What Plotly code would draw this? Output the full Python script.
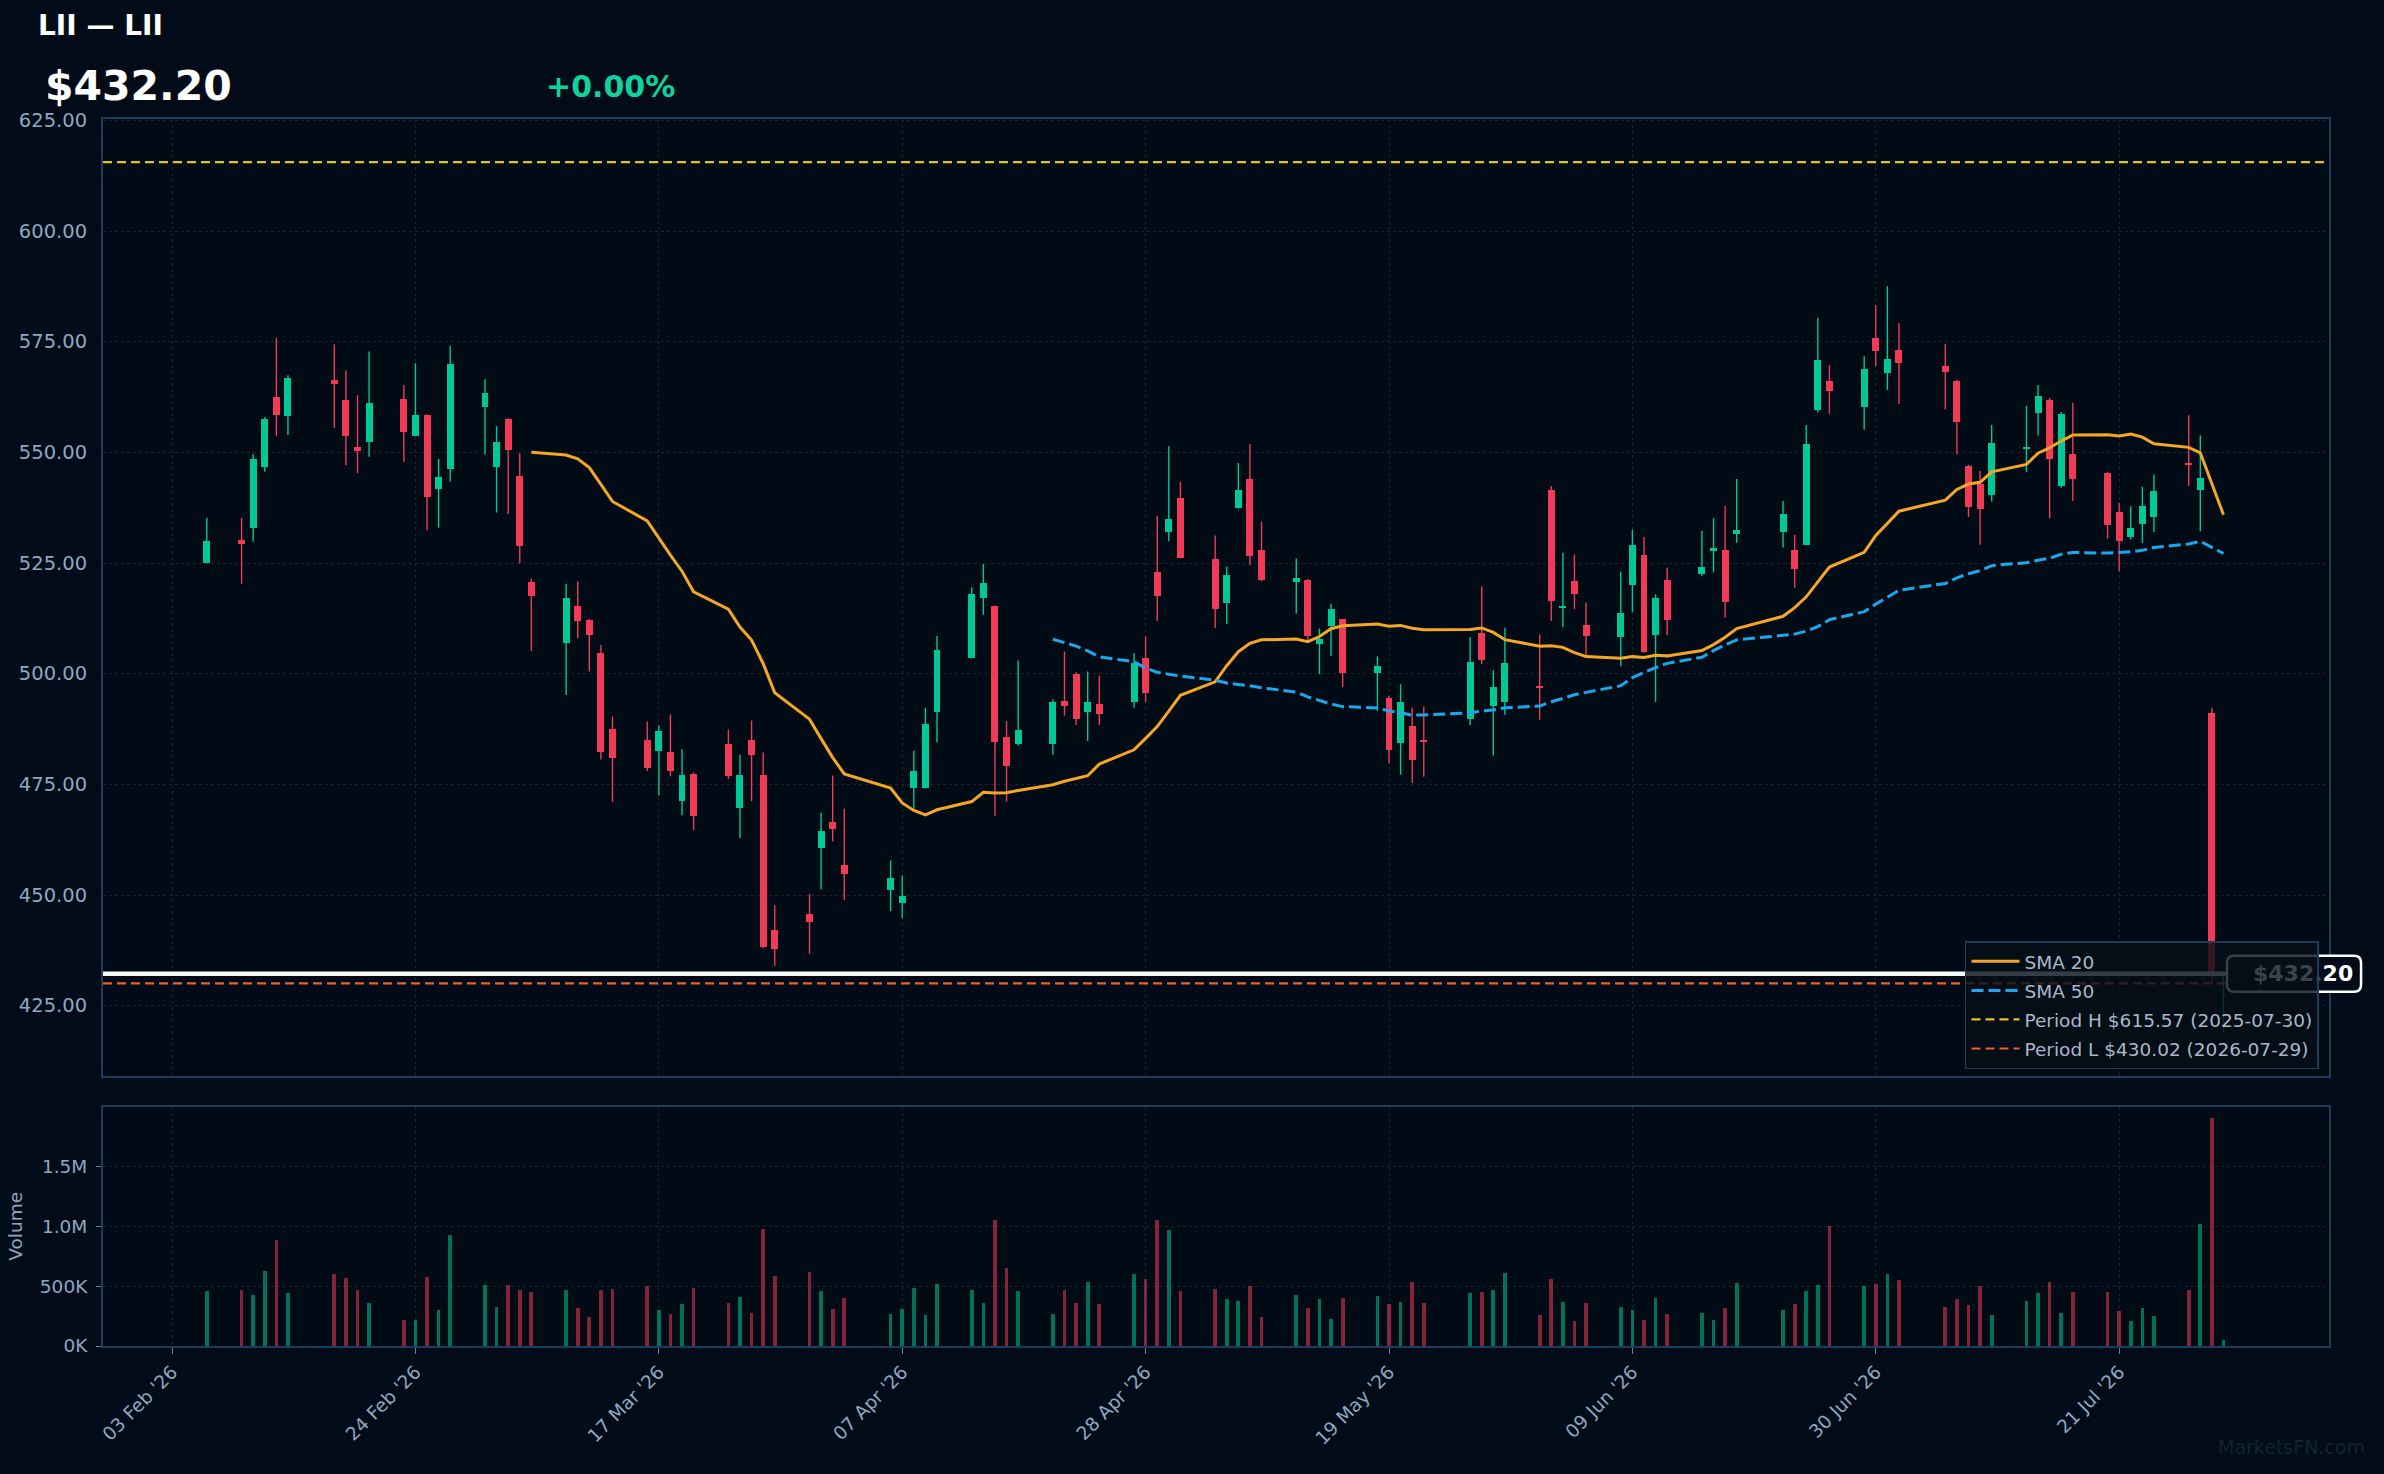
import plotly.graph_objects as go
import pandas as pd

# ---------------- data ----------------
ticker = "LII"
dates = [
    "2026-02-06", "2026-02-09", "2026-02-10", "2026-02-11", "2026-02-12", "2026-02-13",
    "2026-02-17", "2026-02-18", "2026-02-19", "2026-02-20", "2026-02-23", "2026-02-24",
    "2026-02-25", "2026-02-26", "2026-02-27",
    "2026-03-02", "2026-03-03", "2026-03-04", "2026-03-05", "2026-03-06", "2026-03-09",
    "2026-03-10", "2026-03-11", "2026-03-12", "2026-03-13", "2026-03-16", "2026-03-17",
    "2026-03-18", "2026-03-19", "2026-03-20", "2026-03-23", "2026-03-24", "2026-03-25",
    "2026-03-26", "2026-03-27", "2026-03-30", "2026-03-31",
    "2026-04-01", "2026-04-02", "2026-04-06", "2026-04-07", "2026-04-08", "2026-04-09",
    "2026-04-10", "2026-04-13", "2026-04-14", "2026-04-15", "2026-04-16", "2026-04-17",
    "2026-04-20", "2026-04-21", "2026-04-22", "2026-04-23", "2026-04-24", "2026-04-27",
    "2026-04-28", "2026-04-29", "2026-04-30",
    "2026-05-01", "2026-05-04", "2026-05-05", "2026-05-06", "2026-05-07", "2026-05-08",
    "2026-05-11", "2026-05-12", "2026-05-13", "2026-05-14", "2026-05-15", "2026-05-18",
    "2026-05-19", "2026-05-20", "2026-05-21", "2026-05-22", "2026-05-26", "2026-05-27",
    "2026-05-28", "2026-05-29",
    "2026-06-01", "2026-06-02", "2026-06-03", "2026-06-04", "2026-06-05", "2026-06-08",
    "2026-06-09", "2026-06-10", "2026-06-11", "2026-06-12", "2026-06-15", "2026-06-16",
    "2026-06-17", "2026-06-18", "2026-06-22", "2026-06-23", "2026-06-24", "2026-06-25",
    "2026-06-26", "2026-06-29", "2026-06-30",
    "2026-07-01", "2026-07-02", "2026-07-06", "2026-07-07", "2026-07-08", "2026-07-09",
    "2026-07-10", "2026-07-13", "2026-07-14", "2026-07-15", "2026-07-16", "2026-07-17",
    "2026-07-20", "2026-07-21", "2026-07-22", "2026-07-23", "2026-07-24", "2026-07-27",
    "2026-07-28", "2026-07-29", "2026-07-30",
]
opens = [
    525.0, 530.3, 533.0, 546.8, 562.5, 558.2, 566.3, 561.8, 551.1, 552.4, 562.0, 553.8,
    558.4, 541.8, 546.3,
    560.3, 546.8, 557.5, 544.7, 520.6, 506.9, 515.4, 512.2, 504.7, 487.6, 485.1, 482.5,
    482.4, 471.2, 477.4, 484.2, 469.6, 485.1, 477.0, 442.0, 445.6, 460.6,
    466.4, 456.7, 451.1, 448.3, 474.1, 474.1, 491.3, 503.5, 517.1, 515.2, 485.8, 484.2,
    484.2, 493.9, 500.0, 491.4, 493.2, 493.6, 503.6, 523.0, 531.9,
    539.7, 525.8, 515.9, 537.5, 544.0, 528.0, 520.6, 521.2, 506.7, 510.7, 512.3, 500.2,
    494.6, 484.4, 488.1, 484.9, 489.8, 509.3, 492.6, 493.5,
    497.0, 541.5, 515.0, 520.9, 511.0, 508.3, 520.0, 526.9, 508.7, 521.2, 522.6, 527.6,
    528.0, 531.5, 532.1, 527.9, 529.0, 559.6, 566.1, 560.3, 575.9,
    568.0, 573.1, 569.4, 566.1, 547.0, 542.9, 540.3, 550.9, 558.8, 561.8, 542.4, 549.6,
    545.4, 536.6, 530.8, 533.9, 535.5, 547.5, 541.5, 491.1, 432.0,
]
highs = [
    535.2, 535.2, 549.6, 558.0, 575.8, 567.4, 574.4, 568.5, 562.9, 572.8, 565.2, 570.1,
    558.6, 548.5, 574.0,
    566.5, 555.9, 557.7, 549.8, 521.5, 520.3, 520.8, 512.4, 506.5, 490.3, 489.2, 488.3,
    490.8, 482.9, 477.7, 487.4, 481.7, 489.4, 482.2, 447.7, 450.2, 468.6,
    477.0, 469.5, 457.8, 454.4, 482.6, 492.3, 508.5, 519.5, 524.8, 515.4, 489.3, 503.0,
    494.2, 505.0, 500.3, 500.5, 499.6, 504.6, 508.4, 535.7, 551.4,
    543.3, 531.2, 524.2, 547.6, 551.9, 534.3, 526.0, 521.4, 510.2, 515.8, 512.3, 503.9,
    495.0, 497.6, 492.3, 492.6, 508.2, 519.7, 500.8, 510.4,
    508.9, 542.4, 527.3, 526.9, 516.1, 523.0, 532.5, 530.9, 517.9, 523.9, 532.3, 535.1,
    537.9, 544.0, 539.0, 531.4, 556.2, 580.4, 569.7, 571.7, 583.3,
    587.5, 579.2, 574.5, 566.4, 547.2, 545.8, 556.2, 560.5, 565.2, 562.3, 559.1, 561.2,
    545.6, 538.6, 537.8, 542.2, 545.0, 558.4, 553.8, 492.3, 432.6,
]
lows = [
    525.0, 520.3, 529.8, 545.6, 553.7, 553.9, 555.5, 547.1, 545.3, 549.0, 547.9, 553.8,
    532.4, 533.0, 543.4,
    549.5, 536.4, 536.0, 524.9, 505.1, 495.2, 508.0, 500.5, 480.6, 471.0, 478.0, 472.5,
    476.8, 468.0, 464.7, 476.2, 462.9, 471.2, 438.0, 434.0, 436.7, 451.3,
    462.1, 448.9, 446.4, 444.8, 469.5, 474.1, 484.5, 503.5, 513.3, 467.9, 471.1, 483.7,
    481.7, 490.5, 488.4, 484.8, 488.4, 492.3, 493.6, 511.9, 529.9,
    526.1, 510.3, 511.2, 537.3, 524.5, 520.9, 513.6, 507.0, 499.9, 504.0, 497.0, 491.6,
    479.7, 477.2, 475.3, 476.7, 488.4, 502.2, 481.5, 490.7,
    489.6, 511.9, 510.5, 514.6, 504.2, 501.7, 513.9, 504.7, 493.6, 508.7, 522.0, 522.9,
    512.7, 529.6, 528.5, 519.4, 529.0, 559.0, 558.7, 555.1, 569.5,
    564.1, 560.9, 559.7, 549.5, 535.4, 529.1, 538.9, 545.5, 553.8, 535.1, 542.0, 539.0,
    530.5, 523.1, 530.3, 529.5, 532.0, 542.4, 532.2, 430.02, 419.0,
]
closes = [
    530.0, 529.2, 548.5, 557.5, 558.4, 566.7, 565.5, 553.8, 550.2, 561.1, 554.7, 558.4,
    539.8, 544.4, 569.9,
    563.4, 552.3, 550.6, 528.8, 517.5, 517.2, 511.9, 508.7, 482.3, 480.9, 478.8, 487.1,
    478.0, 477.2, 467.8, 476.8, 477.0, 481.6, 438.3, 437.8, 443.9, 464.4,
    464.9, 454.7, 453.8, 449.8, 478.1, 488.7, 505.4, 518.0, 520.5, 484.5, 479.2, 487.2,
    493.5, 492.7, 489.8, 493.7, 490.9, 502.3, 495.6, 517.5, 535.0,
    526.2, 514.7, 522.4, 541.5, 526.5, 521.2, 521.7, 508.5, 507.8, 514.5, 500.1, 501.7,
    482.8, 493.5, 480.6, 484.7, 502.7, 503.1, 497.1, 502.3,
    496.8, 516.4, 515.3, 517.9, 508.5, 513.6, 529.1, 504.9, 517.2, 512.1, 524.2, 528.5,
    516.1, 532.5, 536.1, 523.6, 551.9, 570.9, 563.8, 568.8, 573.0,
    571.1, 570.1, 568.1, 556.9, 537.7, 537.2, 552.0, 551.1, 562.7, 548.6, 558.7, 543.9,
    533.5, 529.9, 532.9, 537.8, 541.2, 547.3, 544.2, 432.2, 432.2,
]
volumes = [
    464000, 470000, 430000, 630000, 890000, 440000, 600000, 570000, 470000, 360000, 220000, 220000,
    580000, 300000, 930000,
    510000, 330000, 510000, 470000, 450000, 470000, 320000, 240000, 470000, 480000, 500000, 300000,
    270000, 350000, 490000, 360000, 410000, 280000, 980000, 590000, 620000, 460000,
    310000, 400000, 270000, 310000, 490000, 260000, 520000, 470000, 360000, 1050000, 650000, 460000,
    270000, 470000, 360000, 540000, 350000, 600000, 560000, 1050000, 970000,
    460000, 480000, 390000, 380000, 500000, 240000, 430000, 320000, 390000, 230000, 400000, 420000,
    350000, 370000, 540000, 360000, 440000, 450000, 470000, 610000,
    260000, 560000, 370000, 210000, 360000, 330000, 300000, 220000, 400000, 270000, 280000, 220000,
    320000, 530000, 300000, 350000, 460000, 510000, 1000000, 500000, 520000,
    600000, 550000, 330000, 390000, 340000, 500000, 260000, 380000, 440000, 540000, 280000, 450000,
    450000, 290000, 210000, 320000, 250000, 470000, 1020000, 1900000, 50000,
]

tick_dates = ["2026-02-03", "2026-02-24", "2026-03-17", "2026-04-07", "2026-04-28",
              "2026-05-19", "2026-06-09", "2026-06-30", "2026-07-21"]
tick_labels = ["03 Feb '26", "24 Feb '26", "17 Mar '26", "07 Apr '26", "28 Apr '26",
               "19 May '26", "09 Jun '26", "30 Jun '26", "21 Jul '26"]
price_ticks = [425, 450, 475, 500, 525, 550, 575, 600, 625]
vol_ticks = [0, 500000, 1000000, 1500000]
vol_tick_labels = ["0K", "500K", "1.0M", "1.5M"]

period_high = 615.57
period_high_date = "2025-07-30"
period_low = 430.02
period_low_date = "2026-07-29"

x_range = ["2026-01-28 01:00", "2026-08-08 02:30"]
price_range = [409.1, 625.3]
vol_range = [0, 1995000]

# ---------------- styling ----------------
FONT = "DejaVu Sans"
BG = "#020c18"
PLOT_BG = "#010b16"
UP = "#00c896"
DOWN = "#f23a57"
UP_VOL = "rgba(0,200,150,0.55)"
DOWN_VOL = "rgba(242,58,87,0.55)"
GRID = "#162433"
SPINE = "#1e3a5c"
TICKTXT = "#8fa7c0"
DAY_MS = 86400000

s = pd.Series(closes)
sma20 = s.rolling(20).mean()
sma50 = s.rolling(50).mean()

up = [c >= o for o, c in zip(opens, closes)]
last = closes[-1]
chg = (closes[-1] - closes[-2]) / closes[-2] * 100

fig = go.Figure()

# volume
fig.add_trace(go.Bar(
    x=dates, y=volumes, width=0.32 * DAY_MS,
    marker=dict(color=[UP_VOL if u else DOWN_VOL for u in up], line=dict(width=0)),
    xaxis="x2", yaxis="y2", showlegend=False, hoverinfo="skip"))

# wicks
for flag, col in ((True, UP), (False, DOWN)):
    wx, wy = [], []
    for d, h, l, u in zip(dates, highs, lows, up):
        if u == flag:
            wx += [d, d, None]
            wy += [l, h, None]
    fig.add_trace(go.Scatter(x=wx, y=wy, mode="lines", line=dict(color=col, width=1.4),
                             showlegend=False, hoverinfo="skip"))

# bodies
fig.add_trace(go.Bar(
    x=dates, y=[abs(c - o) for o, c in zip(opens, closes)],
    base=[min(o, c) for o, c in zip(opens, closes)],
    width=0.6 * DAY_MS,
    marker=dict(color=[UP if u else DOWN for u in up], line=dict(width=0)),
    showlegend=False, hoverinfo="skip"))

# moving averages
fig.add_trace(go.Scatter(x=dates, y=sma20, mode="lines", name="SMA 20", legendgroup="a",
                         line=dict(color="#f5a623", width=3.0)))
fig.add_trace(go.Scatter(x=dates, y=sma50, mode="lines", name="SMA 50", legendgroup="b",
                         line=dict(color="#1aa8ec", width=3.0, dash="12px,5px")))

# legend entries for period lines
fig.add_trace(go.Scatter(x=[None], y=[None], mode="lines", legendgroup="c",
                         name=f"Period H ${period_high:.2f} ({period_high_date})",
                         line=dict(color="#e2c21c", width=2.2, dash="9px,5px")))
fig.add_trace(go.Scatter(x=[None], y=[None], mode="lines", legendgroup="d",
                         name=f"Period L ${period_low:.2f} ({period_low_date})",
                         line=dict(color="#e8602c", width=2.2, dash="9px,5px")))

shapes = [
    dict(type="line", xref="x domain", x0=0, x1=1, yref="y", y0=period_high, y1=period_high,
         line=dict(color="#e2c21c", width=2.2, dash="9px,5px"), layer="above"),
    dict(type="line", xref="x domain", x0=0, x1=1, yref="y", y0=period_low, y1=period_low,
         line=dict(color="#e8602c", width=2.2, dash="9px,5px"), layer="above"),
    dict(type="line", xref="x domain", x0=0, x1=1, yref="y", y0=last, y1=last,
         line=dict(color="#f4f6f8", width=4.5), layer="above"),
]
# rounded price label box
bx0, bx1 = 0.9542, 1.0144
by0, by1 = last - 4.07, last + 4.07
rx, ry = 0.0032, 1.6
path = (f"M {bx0+rx},{by0} L {bx1-rx},{by0} Q {bx1},{by0} {bx1},{by0+ry} "
        f"L {bx1},{by1-ry} Q {bx1},{by1} {bx1-rx},{by1} L {bx0+rx},{by1} "
        f"Q {bx0},{by1} {bx0},{by1-ry} L {bx0},{by0+ry} Q {bx0},{by0} {bx0+rx},{by0} Z")
shapes.append(dict(type="path", xref="paper", yref="y", path=path,
                   fillcolor="#020c18", line=dict(color="#ffffff", width=2.5), layer="above"))

price_txt = f"${last:.2f}"
annotations = [
    dict(text=f"<b>{ticker} — {ticker}</b>", x=-0.0300, y=1.0760, xref="paper", yref="paper",
         xanchor="left", yanchor="middle", showarrow=False,
         font=dict(family=FONT, size=28, color="#ffffff")),
    dict(text=f"<b>{price_txt}</b>", x=-0.0270, y=1.0270, xref="paper", yref="paper",
         xanchor="left", yanchor="middle", showarrow=False,
         font=dict(family=FONT, size=41, color="#ffffff")),
    dict(text=f"<b>{chg:+.2f}%</b>", x=0.1980, y=1.0265, xref="paper", yref="paper",
         xanchor="left", yanchor="middle", showarrow=False,
         font=dict(family=FONT, size=30, color="#10d19f")),
    dict(text=f"<b><span style='color:#3a434d'>{price_txt[:-2]}</span>{price_txt[-2:]}</b>",
         x=1.0119, y=last, xref="paper", yref="y", xanchor="right", yanchor="middle",
         showarrow=False, font=dict(family=FONT, size=22, color="#ffffff")),
    dict(text="MarketsFN.com", x=1.0170, y=-0.082, xref="paper", yref="paper",
         xanchor="right", yanchor="middle", showarrow=False,
         font=dict(family=FONT, size=19, color="#142230")),
]

axis_common = dict(showgrid=True, gridcolor=GRID, griddash="dot", gridwidth=1,
                   zeroline=False, showline=True, mirror=True, linecolor=SPINE,
                   linewidth=2, automargin=False)

fig.update_layout(
    width=2384, height=1474,
    margin=dict(l=103, r=55, t=119, b=128),
    paper_bgcolor=BG, plot_bgcolor=PLOT_BG,
    font=dict(family=FONT, color=TICKTXT, size=19),
    barmode="overlay", bargap=0,
    showlegend=True,
    legend=dict(x=0.9955, xanchor="right", y=0.2255, yanchor="bottom",
                bgcolor="rgba(6,14,24,0.80)", bordercolor="#1f3a5a", borderwidth=1.5,
                font=dict(family=FONT, size=18.5, color="#a9b8c8"),
                itemwidth=48, tracegroupgap=2),
    xaxis=dict(domain=[0, 1], anchor="y", type="date", range=x_range,
               tickvals=tick_dates, ticktext=tick_labels, showticklabels=False,
               ticks="outside", ticklen=5, tickcolor="#05080c", **axis_common),
    yaxis=dict(domain=[0.220, 1], anchor="x", range=price_range,
               tickvals=price_ticks, ticktext=[f"{v:.2f}" for v in price_ticks],
               ticks="outside", ticklen=5, tickcolor="#05080c", ticklabelstandoff=5,
               tickfont=dict(size=19.5, color=TICKTXT), **axis_common),
    xaxis2=dict(domain=[0, 1], anchor="y2", type="date", range=x_range, matches="x",
                tickvals=tick_dates, ticktext=tick_labels, tickangle=-45,
                ticks="outside", ticklen=6, tickcolor="#6d8299",
                tickfont=dict(size=18.5, color=TICKTXT), **axis_common),
    yaxis2=dict(domain=[0, 0.195], anchor="x2", range=vol_range,
                tickvals=vol_ticks, ticktext=vol_tick_labels,
                ticks="outside", ticklen=5, tickcolor="#6d8299", ticklabelstandoff=5,
                tickfont=dict(size=18.5, color=TICKTXT),
                title=dict(text="Volume", font=dict(size=18.5, color=TICKTXT), standoff=12),
                **axis_common),
    shapes=shapes,
    annotations=annotations,
)

fig.write_html("out.html")
